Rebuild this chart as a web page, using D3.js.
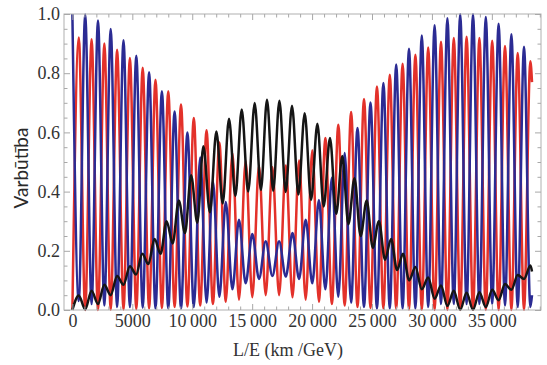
<!DOCTYPE html>
<html>
<head>
<meta charset="utf-8">
<script src="https://cdn.jsdelivr.net/npm/d3@7/dist/d3.min.js"></script>
<style>
    html, body { margin: 0; padding: 0; background: #fff; }
    svg { display: block; }
    .tick text { font-family: "Liberation Serif", "Times New Roman", serif; font-size: 18px; fill: #333; }
    .tick line { stroke: #a8a8a8; }
</style>
</head>
<body>
<svg id="chart" width="547" height="365"></svg>
<script>
// L/E positions (km/GeV) of the fast-oscillation maxima of the blue curve
// and of the minima between them
const peakX = [0, 1068, 2136, 3196, 4264, 5332, 6400, 7468, 8528, 9596, 10664, 11723,
    12800, 13901, 15011, 16129, 17247, 18365, 19467, 20568, 21653, 22721, 23789, 24874,
    25950, 27018, 28086, 29154, 30222, 31290, 32358, 33426, 34494, 35562, 36630, 37682];
const troughX = [534, 1602, 2666, 3730, 4798, 5866, 6934, 7998, 9062, 10130, 11194, 12262,
    13350, 14456, 15570, 16688, 17806, 18916, 20018, 21110, 22187, 23255, 24332, 25412,
    26484, 27552, 28620, 29688, 30756, 31824, 32892, 33960, 35028, 36096, 37156, 38212];
const endX = 38350;

// blue: value at peakX / troughX
const blueAtPeak = [1.000, 0.998, 0.978, 0.949, 0.911, 0.859, 0.803, 0.739, 0.671, 0.600, 0.515, 0.435,
    0.365, 0.305, 0.257, 0.232, 0.232, 0.260, 0.305, 0.372, 0.447, 0.530, 0.615, 0.701,
    0.767, 0.829, 0.883, 0.927, 0.962, 0.986, 0.999, 0.999, 0.990, 0.967, 0.932, 0.889];
const blueAtTrough = [0.030, 0.020, 0.015, 0.010, 0.010, 0.008, 0.005, 0.005, 0.005, 0.010, 0.025, 0.045,
    0.070, 0.090, 0.105, 0.115, 0.113, 0.105, 0.090, 0.070, 0.045, 0.025, 0.010, 0.005,
    0.005, 0.005, 0.005, 0.010, 0.020, 0.020, 0.020, 0.020, 0.020, 0.015, 0.010, 0.010];

// red: value at peakX / troughX
const redAtPeak = [0.000, 0.000, 0.000, 0.001, 0.002, 0.003, 0.005, 0.007, 0.010, 0.012, 0.015, 0.020,
    0.028, 0.035, 0.043, 0.050, 0.050, 0.043, 0.035, 0.028, 0.020, 0.015, 0.010, 0.007,
    0.005, 0.003, 0.002, 0.001, 0.000, 0.000, 0.000, 0.000, 0.000, 0.000, 0.000, 0.000];
const redAtTrough = [0.921, 0.915, 0.900, 0.879, 0.851, 0.818, 0.778, 0.739, 0.694, 0.649, 0.607, 0.566,
    0.530, 0.503, 0.487, 0.482, 0.488, 0.505, 0.540, 0.581, 0.626, 0.669, 0.713, 0.755,
    0.795, 0.832, 0.862, 0.887, 0.906, 0.919, 0.923, 0.919, 0.910, 0.892, 0.868, 0.840];

// black has its own maxima / minima positions (its phase drifts against blue and red)
const blackMaxX = [534, 1602, 2662, 3730, 4798, 5832, 6851, 7860, 8878, 9904, 10931, 12015,
    13067, 14126, 15211, 16237, 17272, 18324, 19383, 20443, 21494, 22521, 23538, 24556,
    25574, 26592, 27585, 28620, 29688, 30756, 31824, 32892, 33960, 35028, 36096, 37156, 38216];
const blackMax = [0.049, 0.065, 0.085, 0.115, 0.148, 0.190, 0.240, 0.300, 0.370, 0.455, 0.553, 0.603,
    0.646, 0.677, 0.699, 0.710, 0.707, 0.690, 0.665, 0.629, 0.581, 0.520, 0.445, 0.370,
    0.300, 0.240, 0.190, 0.145, 0.110, 0.083, 0.065, 0.058, 0.060, 0.068, 0.088, 0.118, 0.150];
const blackMinX = [0, 1068, 2136, 3196, 4264, 5315, 6341, 7359, 8369, 9395, 10422, 11473, 12541,
    13601, 14669, 15729, 16755, 17798, 18857, 19917, 20968, 22011, 23029, 24047, 25065,
    26083, 27093, 28103, 29154, 30222, 31290, 32358, 33426, 34494, 35562, 36630, 37682];
const blackMin = [0.000, 0.002, 0.020, 0.050, 0.085, 0.120, 0.155, 0.190, 0.225, 0.260, 0.295, 0.330, 0.360,
    0.385, 0.400, 0.405, 0.403, 0.399, 0.390, 0.372, 0.350, 0.325, 0.290, 0.250, 0.210,
    0.170, 0.135, 0.100, 0.070, 0.038, 0.014, 0.001, 0.001, 0.010, 0.033, 0.068, 0.105];

// last sample of each curve at endX
const endValues = { blue: 0.05, red: 0.77, black: 0.13 };

const xMajorTicks = [0, 5000, 10000, 15000, 20000, 25000, 30000, 35000];
const yMajorTicks = [0, 0.2, 0.4, 0.6, 0.8, 1.0];

let config = {
    left: 64, right: 541, top: 14, bottom: 310,
    majorTick: 6, minorTick: 3.5,
    lineWidth: 2.5,
    frameColor: '#b0b0b0'
};

// interleave two lists of [x, value] extrema into one sorted polyline
function mergeExtrema(xa, ya, xb, yb, last) {
    let pts = [];
    xa.forEach(function (v, i) { pts.push([v, ya[i]]); });
    xb.forEach(function (v, i) { pts.push([v, yb[i]]); });
    pts.sort(function (a, b) { return a[0] - b[0]; });
    pts.push([endX, last]);
    return pts;
}

const series = [
    { name: 'red', color: '#e3312a', data: mergeExtrema(peakX, redAtPeak, troughX, redAtTrough, endValues.red) },
    { name: 'blue', color: '#2b2b93', data: mergeExtrema(peakX, blueAtPeak, troughX, blueAtTrough, endValues.blue) },
    { name: 'black', color: '#151515', data: mergeExtrema(blackMinX, blackMin, blackMaxX, blackMax, endValues.black) }
];

let svg = d3.select('#chart');

let x = d3.scaleLinear().domain([-700, 39100]).range([config.left, config.right]);
let y = d3.scaleLinear().domain([0, 1]).range([config.bottom, config.top]);

let xMinor = d3.range(0, 39001, 1000).filter(function (d) { return d % 5000 !== 0; });
let yMinor = d3.range(0, 1.0001, 0.05).filter(function (d) { return Math.round(d * 100) % 20 !== 0; });

function fmtX(d) {
    let s = String(d);
    return s.length > 4 ? s.slice(0, s.length - 3) + '\u2009' + s.slice(-3) : s;
}

// curves
let line = d3.line()
    .x(function (d) { return x(d[0]); })
    .y(function (d) { return y(d[1]); })
    .curve(d3.curveMonotoneX);

let plot = svg.append('g');
plot.append('clipPath').attr('id', 'clip')
    .append('rect')
    .attr('x', config.left).attr('y', config.top - 2)
    .attr('width', config.right - config.left).attr('height', config.bottom - config.top + 4);

plot.selectAll('path.curve')
    .data(series)
    .enter().append('path')
    .attr('class', 'curve')
    .attr('clip-path', 'url(#clip)')
    .attr('d', function (d) { return line(d.data); })
    .attr('fill', 'none')
    .attr('stroke', function (d) { return d.color; })
    .attr('stroke-width', config.lineWidth)
    .attr('stroke-linejoin', 'round');

// frame
svg.append('rect')
    .attr('x', config.left).attr('y', config.top)
    .attr('width', config.right - config.left).attr('height', config.bottom - config.top)
    .attr('fill', 'none')
    .attr('stroke', config.frameColor)
    .attr('stroke-width', 1);

function addAxis(axis, tx, ty) {
    let g = svg.append('g').attr('transform', 'translate(' + tx + ',' + ty + ')').call(axis);
    g.select('.domain').remove();
    return g;
}

// bottom
addAxis(d3.axisBottom(x).tickValues(xMajorTicks).tickSizeInner(-config.majorTick).tickSizeOuter(0)
    .tickPadding(4).tickFormat(fmtX), 0, config.bottom);
addAxis(d3.axisBottom(x).tickValues(xMinor).tickSizeInner(-config.minorTick).tickSizeOuter(0)
    .tickFormat(''), 0, config.bottom);
// top
addAxis(d3.axisTop(x).tickValues(xMajorTicks).tickSizeInner(-config.majorTick).tickSizeOuter(0)
    .tickFormat(''), 0, config.top);
addAxis(d3.axisTop(x).tickValues(xMinor).tickSizeInner(-config.minorTick).tickSizeOuter(0)
    .tickFormat(''), 0, config.top);
// left
addAxis(d3.axisLeft(y).tickValues(yMajorTicks).tickSizeInner(-config.majorTick).tickSizeOuter(0)
    .tickPadding(4).tickFormat(d3.format('.1f')), config.left, 0);
addAxis(d3.axisLeft(y).tickValues(yMinor).tickSizeInner(-config.minorTick).tickSizeOuter(0)
    .tickFormat(''), config.left, 0);
// right
addAxis(d3.axisRight(y).tickValues(yMajorTicks).tickSizeInner(-config.majorTick).tickSizeOuter(0)
    .tickFormat(''), config.right, 0);
addAxis(d3.axisRight(y).tickValues(yMinor).tickSizeInner(-config.minorTick).tickSizeOuter(0)
    .tickFormat(''), config.right, 0);

// axis titles
svg.append('text')
    .attr('x', 288).attr('y', 356)
    .attr('text-anchor', 'middle')
    .style('font-family', '"Liberation Serif", "Times New Roman", serif')
    .style('font-size', '18px')
    .style('fill', '#333')
    .text('L/E (km /GeV)');

svg.append('text')
    .attr('transform', 'translate(28,168) rotate(-90)')
    .attr('text-anchor', 'middle')
    .style('font-family', 'Lato, "Open Sans", sans-serif')
    .style('font-size', '19px')
    .style('fill', '#2a2a2a')
    .text('Varbūtība');
</script>
</body>
</html>
